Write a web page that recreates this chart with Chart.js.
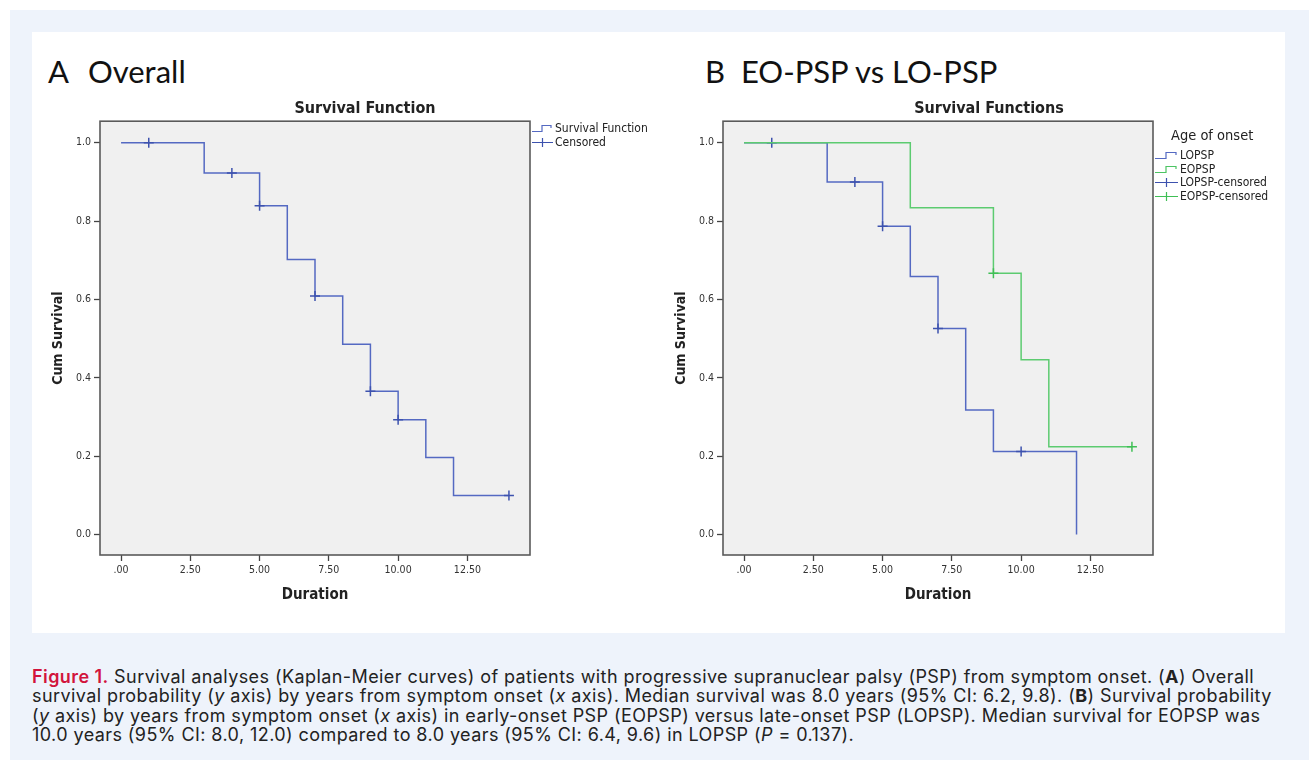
<!DOCTYPE html>
<html>
<head>
<meta charset="utf-8">
<script src="https://cdn.jsdelivr.net/npm/chart.js@4"></script>
<style>
body{margin:0;background:#fff;width:1309px;height:760px;overflow:hidden;position:relative;font-family:"DejaVu Sans Condensed","DejaVu Sans",sans-serif}
#panel{position:absolute;left:10px;top:10px;width:1299px;height:750px;background:#eef3fb}
#fig{position:absolute;left:32px;top:32px;width:1253px;height:601px;background:#fff}
.ptitle{position:absolute;top:52px;font-family:Lato,"Open Sans",sans-serif;font-size:31px;color:#111;white-space:pre}
canvas{position:absolute}
.legend{position:absolute;font-size:12px;color:#222;line-height:13.5px}
.legend .row{display:flex;align-items:center;height:13.5px}
.legend svg{margin-right:2px}
.legend .ttl{font-size:14.5px;line-height:16px;margin-bottom:6px;margin-left:16px}
#caption{position:absolute;left:32px;top:667px;font-family:Inter,Roboto,sans-serif;font-size:18px;letter-spacing:0.42px;line-height:19.4px;color:#222;white-space:nowrap}
#caption .fig1{color:#d2143c;font-weight:600}
</style>
</head>
<body>
<div id="panel"></div>
<div id="fig"></div>
<div class="ptitle" style="left:48px">A<span style="margin-left:11px"> </span>Overall</div>
<div class="ptitle" style="left:705px">B  EO-PSP vs LO-PSP</div>

<canvas id="chartA" width="650" height="512" style="left:40px;top:93px"></canvas>
<canvas id="chartB" width="652" height="512" style="left:663px;top:93px"></canvas>

<div class="legend" style="left:532px;top:122px">
  <div class="row"><svg width="21" height="9"><path d="M0,7.5H10V1.5H19V4" fill="none" stroke="#5469c2" stroke-width="1.2"/></svg>Survival Function</div>
  <div class="row"><svg width="21" height="11"><path d="M0,5.5H21M10.5,1V10" fill="none" stroke="#3d52ae" stroke-width="1.2"/></svg>Censored</div>
</div>

<div class="legend" style="left:1155px;top:127px">
  <div class="ttl">Age of onset</div>
  <div class="row"><svg width="23" height="9"><path d="M0,7.5H11V1.5H21V4" fill="none" stroke="#5469c2" stroke-width="1.2"/></svg>LOPSP</div>
  <div class="row"><svg width="23" height="9"><path d="M0,7.5H11V1.5H21V4" fill="none" stroke="#4cc463" stroke-width="1.2"/></svg>EOPSP</div>
  <div class="row"><svg width="23" height="11"><path d="M0,5.5H23M11.5,1V10" fill="none" stroke="#3d52ae" stroke-width="1.2"/></svg>LOPSP-censored</div>
  <div class="row"><svg width="23" height="11"><path d="M0,5.5H23M11.5,1V10" fill="none" stroke="#3fbf55" stroke-width="1.2"/></svg>EOPSP-censored</div>
</div>

<div id="caption"><span class="fig1">Figure 1.</span> Survival analyses (Kaplan-Meier curves) of patients with progressive supranuclear palsy (PSP) from symptom onset. (<b>A</b>) Overall<br>survival probability (<i>y</i> axis) by years from symptom onset (<i>x</i> axis). Median survival was 8.0 years (95% CI: 6.2, 9.8). (<b>B</b>) Survival probability<br>(<i>y</i> axis) by years from symptom onset (<i>x</i> axis) in early-onset PSP (EOPSP) versus late-onset PSP (LOPSP). Median survival for EOPSP was<br>10.0 years (95% CI: 8.0, 12.0) compared to 8.0 years (95% CI: 6.4, 9.6) in LOPSP (<i>P</i> = 0.137).</div>

<script>
// panel A - overall
const overallTimes = [0, 3, 5, 6, 7, 8, 9, 10, 11, 12, 14]
const overallSurv = [1.0, 0.923, 0.839, 0.702, 0.609, 0.486, 0.366, 0.293, 0.197, 0.100, 0.100]
const overallCensTimes = [1, 4, 5, 7, 9, 10, 14]
const overallCensSurv = [1.0, 0.923, 0.839, 0.609, 0.366, 0.293, 0.100]

// panel B - late onset
const loTimes = [0, 3, 5, 6, 7, 8, 9, 12]
const loSurv = [1.0, 0.900, 0.787, 0.659, 0.526, 0.318, 0.212, 0.0]
const loCensTimes = [1, 4, 5, 7, 10]
const loCensSurv = [1.0, 0.900, 0.787, 0.526, 0.212]

// panel B - early onset
const eoTimes = [0, 6, 9, 10, 11, 14]
const eoSurv = [1.0, 0.834, 0.667, 0.446, 0.224, 0.224]
const eoCensTimes = [9, 14]
const eoCensSurv = [0.667, 0.224]

const xTicks = [0, 2.5, 5, 7.5, 10, 12.5]
const yTicks = [0, 0.2, 0.4, 0.6, 0.8, 1.0]

const blue = "#5469c2"
const blueDark = "#3d52ae"
const green = "#5ccb70"
const greenDark = "#3fbf55"

Chart.defaults.font.family = '"DejaVu Sans Condensed","DejaVu Sans",sans-serif'
Chart.defaults.color = "#333"

function pts(xs, ys){
  return xs.map((x,i) => ({x:x, y:ys[i]}))
}

function stepSet(xs, ys, color){
  return {
    data: pts(xs, ys),
    borderColor: color,
    borderWidth: 1.5,
    pointRadius: 0,
    stepped: "before",
    fill: false
  }
}

function censSet(xs, ys, color){
  return {
    data: pts(xs, ys),
    borderColor: color,
    backgroundColor: color,
    showLine: false,
    pointStyle: "cross",
    pointRadius: 5,
    pointBorderWidth: 1.5
  }
}

const frame = {
  id: "frame",
  beforeDraw(chart){
    const a = chart.chartArea, ctx = chart.ctx
    ctx.save()
    ctx.fillStyle = "#f0f0f0"
    ctx.fillRect(a.left, a.top, a.right - a.left, a.bottom - a.top)
    ctx.restore()
  },
  afterDraw(chart){
    const a = chart.chartArea, ctx = chart.ctx
    ctx.save()
    ctx.strokeStyle = "#5a5a5a"
    ctx.lineWidth = 1.6
    ctx.strokeRect(a.left, a.top, a.right - a.left, a.bottom - a.top)
    ctx.restore()
  }
}

function makeChart(id, title, legendSpace, datasets){
  return new Chart(document.getElementById(id), {
    type: "line",
    data: {datasets: datasets},
    plugins: [frame],
    options: {
      responsive: false,
      animation: false,
      layout: {padding: 0},
      plugins: {
        legend: {display: false},
        tooltip: {enabled: false},
        title: {
          display: true,
          text: title,
          color: "#222",
          font: {size: 16, weight: "bold"},
          padding: {top: 6, bottom: 3}
        }
      },
      scales: {
        x: {
          type: "linear",
          min: -0.76,
          max: 14.76,
          afterBuildTicks: s => { s.ticks = xTicks.map(v => ({value: v})) },
          afterFit: s => { s.height = 50 },
          grid: {drawOnChartArea: false, drawTicks: true, tickLength: 6, tickColor: "#444", tickWidth: 1.3},
          border: {display: false},
          ticks: {
            padding: 3,
            maxRotation: 0,
            font: {size: 10.5},
            color: "#333",
            callback: v => v === 0 ? ".00" : v.toFixed(2)
          },
          title: {display: true, text: "Duration", color: "#222", font: {size: 15, weight: "bold"}, padding: {top: 0, bottom: 1}}
        },
        y: {
          type: "linear",
          min: -0.052,
          max: 1.055,
          afterBuildTicks: s => { s.ticks = yTicks.map(v => ({value: v})) },
          afterFit: s => { s.width = 60 },
          grid: {drawOnChartArea: false, drawTicks: true, tickLength: 6, tickColor: "#444", tickWidth: 1.3},
          border: {display: false},
          ticks: {
            padding: 3,
            font: {size: 10.5},
            color: "#333",
            callback: v => v.toFixed(1)
          },
          title: {display: true, text: "Cum Survival", color: "#222", font: {size: 14, weight: "bold"}, padding: {top: 10, bottom: 0}}
        },
        // empty right-hand axis that reserves the room where the legend sits
        side: {
          type: "linear",
          position: "right",
          afterFit: s => { s.width = legendSpace },
          grid: {display: false},
          border: {display: false},
          ticks: {display: false}
        }
      }
    }
  })
}

makeChart("chartA", "Survival Function", 160, [
  censSet(overallCensTimes, overallCensSurv, blueDark),
  stepSet(overallTimes, overallSurv, blue)
])

makeChart("chartB", "Survival Functions", 162, [
  censSet(eoCensTimes, eoCensSurv, greenDark),
  stepSet(eoTimes, eoSurv, green),
  censSet(loCensTimes, loCensSurv, blueDark),
  stepSet(loTimes, loSurv, blue)
])
</script>
</body>
</html>
